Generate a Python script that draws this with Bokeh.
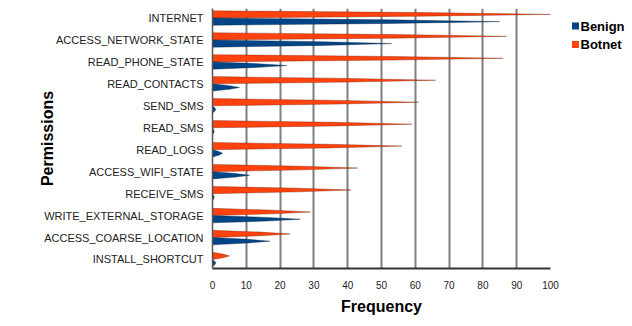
from bokeh.plotting import figure
from bokeh.layouts import row
from bokeh.models import Range1d, FixedTicker, ColumnDataSource
from bokeh.core.properties import value
from bokeh.embed import file_html
from bokeh.resources import INLINE

categories = ["INTERNET", "ACCESS_NETWORK_STATE", "READ_PHONE_STATE", "READ_CONTACTS",
              "SEND_SMS", "READ_SMS", "READ_LOGS", "ACCESS_WIFI_STATE", "RECEIVE_SMS",
              "WRITE_EXTERNAL_STORAGE", "ACCESS_COARSE_LOCATION", "INSTALL_SHORTCUT"]
benign = [85, 53, 22, 8, 1, 0.5, 3, 11, 0.5, 26, 17, 1]
botnet = [100, 87, 86, 66, 61, 59, 56, 43, 41, 29, 23, 5]
x_ticks = [0, 10, 20, 30, 40, 50, 60, 70, 80, 90, 100]
series_names = ["Benign", "Botnet"]

FONT = "Liberation Sans"
BENIGN_C = "#004586"
BOTNET_C = "#ff420e"
series_colors = [BENIGN_C, BOTNET_C]

n = len(categories)
pos = list(range(n))

p = figure(width=560, height=326, x_range=Range1d(0, 100), y_range=Range1d(11.41, -0.433),
           output_backend="svg", toolbar_location=None,
           min_border_left=212, min_border_right=10, min_border_top=8, min_border_bottom=58)

h = 0.165
off = 0.165

def cones(vals, sign):
    xs, ys = [], []
    for i, v in zip(pos, vals):
        yc = i + sign * off
        xs.append([0, 0.62 * v, v, 0.62 * v, 0])
        ys.append([yc - h, yc - 0.5 * h, yc, yc + 0.5 * h, yc + h])
    return ColumnDataSource(dict(xs=xs, ys=ys))

p.patches("xs", "ys", source=cones(botnet, -1), fill_color=BOTNET_C,
          line_color="#6a1800", line_width=0.6, line_alpha=0.6)
p.patches("xs", "ys", source=cones(benign, 1), fill_color=BENIGN_C,
          line_color="#001a33", line_width=0.6, line_alpha=0.6)

# axes
p.xaxis.ticker = FixedTicker(ticks=x_ticks)
p.yaxis.ticker = FixedTicker(ticks=pos)
p.yaxis.major_label_overrides = {i: c for i, c in zip(pos, categories)}
p.xaxis.axis_label = "Frequency"
p.yaxis.axis_label = "Permissions"
for ax in (p.xaxis, p.yaxis):
    ax.axis_label_text_font = FONT
    ax.axis_label_text_font_style = "bold"
    ax.axis_label_text_font_size = "16px"
    ax.axis_label_text_color = "#000000"
    ax.major_label_text_font = FONT
    ax.major_label_text_color = "#222222"
    ax.minor_tick_line_color = None
    ax.major_tick_in = 0
    ax.major_tick_out = 0
p.xaxis.major_label_text_font_size = "10px"
p.yaxis.major_label_text_font_size = "11px"
p.xaxis.major_label_standoff = 12
p.yaxis.major_label_standoff = 9
p.xaxis.axis_label_standoff = 6
p.yaxis.axis_label_standoff = -15
p.xaxis.axis_line_color = "#333333"
p.xaxis.axis_line_width = 2
p.yaxis.axis_line_color = "#555555"
p.yaxis.axis_line_width = 1.5

p.xgrid.grid_line_color = "#7f7f7f"
p.xgrid.grid_line_width = 2
p.ygrid.grid_line_color = None
p.outline_line_color = None
p.background_fill_color = "white"
p.border_fill_color = "white"

# legend panel as a separate small figure (pixel-space coordinates)
lf = figure(width=72, height=326, x_range=Range1d(0, 72), y_range=Range1d(326, 0),
            output_backend="svg", toolbar_location=None,
            min_border_left=0, min_border_right=0, min_border_top=0, min_border_bottom=0)
lf.axis.visible = False
lf.grid.visible = False
lf.outline_line_color = None
lf.border_fill_color = "white"
lf.background_fill_color = "white"
leg_y = [22, 45]
lf.scatter(x=[15, 15], y=leg_y, marker="square", size=7,
           fill_color=series_colors, line_color=None)
lf.text(x=[20, 20], y=leg_y, text=series_names, text_font=value(FONT),
        text_font_style="bold", text_font_size="13px", text_baseline="middle",
        text_align="left", text_color="#000000")

layout = row(p, lf, spacing=0)
open("out.html", "w").write(file_html(layout, INLINE))
